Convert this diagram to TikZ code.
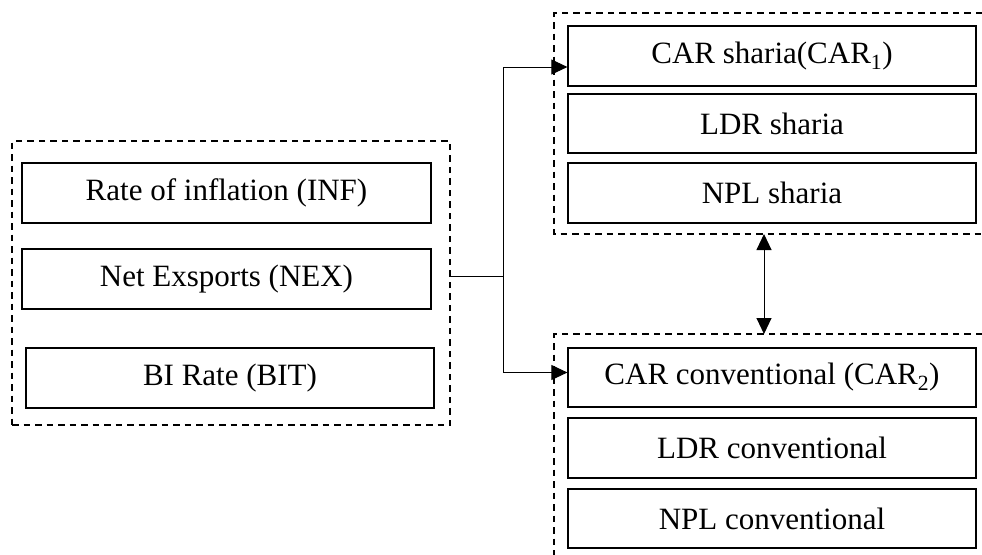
\documentclass[tikz,border=0pt]{standalone}
\usepackage{fontspec}
\setmainfont{Liberation Serif}
\usetikzlibrary{arrows.meta}
\tikzset{
  box/.style={draw, line width=1.2pt, inner sep=0pt, minimum width=408pt, minimum height=60pt,
    font=\fontsize{31}{35}\selectfont},
  grp/.style={draw, line width=1.2pt, dash pattern=on 6.5pt off 5pt},
  conn/.style={line width=1pt},
  tip/.style={-{Triangle[length=16pt,width=15pt]}},
}
\begin{document}
\begin{tikzpicture}[x=1pt,y=-1pt]
\useasboundingbox (0,0) rectangle (982,554);
% left group
\node[grp, inner sep=0pt, minimum width=438pt, minimum height=284pt] (grpL) at (231,283) {};
\node[box, minimum width=409pt] (inf) at (226.5,193) {Rate of inflation (INF)};
\node[box, minimum width=409pt] (nex) at (226.5,279) {Net Exsports (NEX)};
\node[box] (bit) at (230,378) {BI Rate (BIT)};
% right top group
\draw[grp] (982,13) -- (554,13) -- (554,234) -- (982,234);
\node[box] (car1) at (772,56) {CAR sharia(CAR\textsubscript{1})};
\node[box, minimum height=59pt] (ldr1) at (772,123.5) {LDR sharia};
\node[box] (npl1) at (772,193) {NPL sharia};
% right bottom group
\draw[grp] (982,334) -- (554,334) -- (554,556);
\node[box, minimum height=59pt] (car2) at (772,377.5) {CAR conventional (CAR\textsubscript{2})};
\node[box] (ldr2) at (772,448) {LDR conventional};
\node[box, minimum height=59pt] (npl2) at (772,518.5) {NPL conventional};
% connectors
\coordinate (split) at (503,276);
\coordinate (topgrpbot) at (764,234);
\coordinate (botgrptop) at (764,334);
\draw[conn] (grpL.east |- split) -- (split);
\draw[conn, tip] (split) |- ([yshift=-11pt]car1.west);
\draw[conn, tip] (split) |- ([yshift=5pt]car2.west);
\draw[conn, {Triangle[length=16pt,width=15pt]}-{Triangle[length=16pt,width=15pt]}] (topgrpbot) -- (botgrptop);
\end{tikzpicture}
\end{document}
